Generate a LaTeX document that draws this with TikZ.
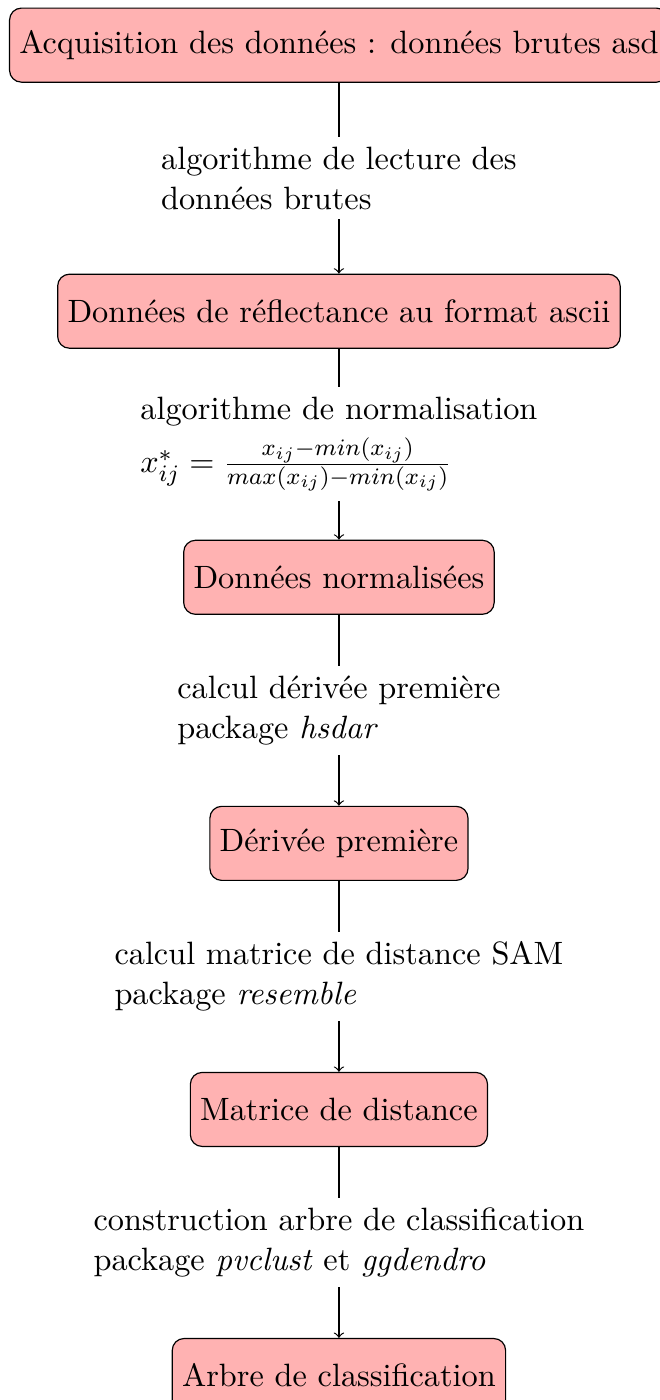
\documentclass[tikz,border=0pt]{standalone}
\usepackage{tikz}
\usetikzlibrary{positioning}

\begin{document}
\begin{tikzpicture}[
  node distance = 64.7pt,
  every node/.style = {font=\fontsize{10.95pt}{13.6pt}\selectfont},
  box/.style = {rectangle, rounded corners, draw=black, fill=red!30,
                minimum height=25.1pt, align=center},
  lbl/.style = {fill=white, align=left},
  arr/.style = {->}
]

\useasboundingbox (-114.9pt,15.3pt) rectangle (108.8pt,-459.3pt);

\node[box] (acq) {Acquisition des données : données brutes asd};
\node[box, below=of acq] (refl) {Données de réflectance au format ascii};
\node[box, below=of refl] (norm) {Données normalisées};
\node[box, below=of norm] (deriv) {Dérivée première};
\node[box, below=of deriv] (dist) {Matrice de distance};
\node[box, below=of dist] (arbre) {Arbre de classification};

\draw[arr] (acq) -- node[lbl] {algorithme de lecture des\\données brutes} (refl);
\draw[arr] (refl) -- node[lbl] {algorithme de normalisation\\[3pt]
  $x^*_{ij}=\frac{x_{ij}-min(x_{ij})}{max(x_{ij})-min(x_{ij})}$} (norm);
\draw[arr] (norm) -- node[lbl] {calcul dérivée première\\package \textit{hsdar}} (deriv);
\draw[arr] (deriv) -- node[lbl] {calcul matrice de distance SAM\\package \textit{resemble}} (dist);
\draw[arr] (dist) -- node[lbl] {construction arbre de classification\\
  package \textit{pvclust} et \textit{ggdendro}} (arbre);

\end{tikzpicture}
\end{document}
